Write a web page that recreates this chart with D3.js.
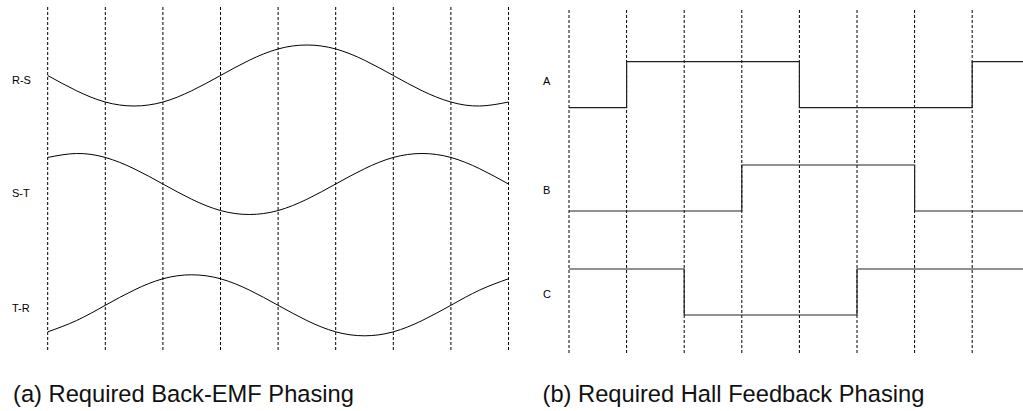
<!DOCTYPE html>
<html>
<head>
<meta charset="utf-8">
<script src="https://cdn.jsdelivr.net/npm/d3@7"></script>
<style>
    body { margin: 0; background: #fff; }
    svg { display: block; }
</style>
</head>
<body>
<div id="chart-area"></div>
<script>
// electrical angle marks (one every 60 degrees)
const marks = [0, 1, 2, 3, 4, 5, 6, 7, 8]

// back-EMF values read at every half mark (normalised -1..1)
const emfSteps = [0, 0.5, 1, 1.5, 2, 2.5, 3, 3.5, 4, 4.5, 5, 5.5, 6, 6.5, 7, 7.5, 8]
const emfNames = ['R-S', 'S-T', 'T-R']
const emfRS = [0, -0.5, -0.87, -1, -0.87, -0.5, 0, 0.5, 0.87, 1, 0.87, 0.5, 0, -0.5, -0.87, -1, -0.87]
const emfST = [0.87, 1, 0.87, 0.5, 0, -0.5, -0.87, -1, -0.87, -0.5, 0, 0.5, 0.87, 1, 0.87, 0.5, 0]
const emfTR = [-0.87, -0.5, 0, 0.5, 0.87, 1, 0.87, 0.5, 0, -0.5, -0.87, -1, -0.87, -0.5, 0, 0.5, 0.87]

// hall sensor states per 60 degree sector
const hallNames = ['A', 'B', 'C']
const hallA = [0, 1, 1, 1, 0, 0, 0, 1]
const hallB = [0, 0, 0, 1, 1, 1, 0, 0]
const hallC = [1, 1, 0, 0, 0, 1, 1, 1]

const captions = ['(a) Required Back-EMF Phasing', '(b) Required Hall Feedback Phasing']

const width = 1023
const height = 411

const svg = d3.select('#chart-area')
              .append('svg')
              .attr('width', width)
              .attr('height', height)

// ---------- LEFT PANEL ----------
const xL = d3.scaleLinear()
             .domain([0, 8])
             .range([47.7, 508.5])

svg.append('g')
   .selectAll('line')
   .data(marks)
   .enter()
   .append('line')
   .attr('x1', d => xL(d))
   .attr('x2', d => xL(d))
   .attr('y1', 7)
   .attr('y2', 352)
   .attr('stroke', '#000')
   .attr('stroke-width', 1)
   .attr('stroke-dasharray', '3,2')

const emfRows = [
    { name: emfNames[0], values: emfRS, center: 75.5, label: 83.5 },
    { name: emfNames[1], values: emfST, center: 184, label: 197 },
    { name: emfNames[2], values: emfTR, center: 305.3, label: 311.5 }
]

emfRows.forEach(row => {
    const y = d3.scaleLinear()
                .domain([-1, 1])
                .range([row.center + 30.5, row.center - 30.5])

    const line = d3.line()
                   .x(d => xL(d[0]))
                   .y(d => y(d[1]))
                   .curve(d3.curveNatural)

    svg.append('path')
       .datum(emfSteps.map((s, i) => [s, row.values[i]]))
       .attr('d', line)
       .attr('fill', 'none')
       .attr('stroke', '#000')
       .attr('stroke-width', 1)

    svg.append('text')
       .attr('x', 12)
       .attr('y', row.label)
       .attr('font-family', 'Liberation Sans, Arial, sans-serif')
       .attr('font-size', '11px')
       .text(row.name)
})

// ---------- RIGHT PANEL ----------
const xR = d3.scaleLinear()
             .domain([0, 8])
             .range([569, 1029.8])

svg.append('g')
   .selectAll('line')
   .data(marks)
   .enter()
   .append('line')
   .attr('x1', d => xR(d))
   .attr('x2', d => xR(d))
   .attr('y1', 10)
   .attr('y2', 355)
   .attr('stroke', '#000')
   .attr('stroke-width', 1)
   .attr('stroke-dasharray', '3,2')

const hallRows = [
    { name: hallNames[0], values: hallA, high: 61.7, label: 85 },
    { name: hallNames[1], values: hallB, high: 165, label: 194 },
    { name: hallNames[2], values: hallC, high: 269, label: 297.7 }
]

hallRows.forEach(row => {
    const y = d3.scaleLinear()
                .domain([0, 1])
                .range([row.high + 46, row.high])

    const pts = row.values.map((v, i) => [i, v])
    pts.push([row.values.length, row.values[row.values.length - 1]])

    const line = d3.line()
                   .x(d => xR(d[0]))
                   .y(d => y(d[1]))
                   .curve(d3.curveStepAfter)

    svg.append('path')
       .datum(pts)
       .attr('d', line)
       .attr('fill', 'none')
       .attr('stroke', '#222')
       .attr('stroke-width', 1.2)

    svg.append('text')
       .attr('x', 543)
       .attr('y', row.label)
       .attr('font-family', 'Liberation Sans, Arial, sans-serif')
       .attr('font-size', '11px')
       .text(row.name)
})

// ---------- CAPTIONS ----------
svg.selectAll('.caption')
   .data(captions)
   .enter()
   .append('text')
   .attr('class', 'caption')
   .attr('x', (d, i) => i === 0 ? 13 : 542.5)
   .attr('y', 401.5)
   .attr('font-family', 'Liberation Sans, Arial, sans-serif')
   .attr('font-size', '23.7px')
   .attr('fill', '#111')
   .text(d => d)
</script>
</body>
</html>
